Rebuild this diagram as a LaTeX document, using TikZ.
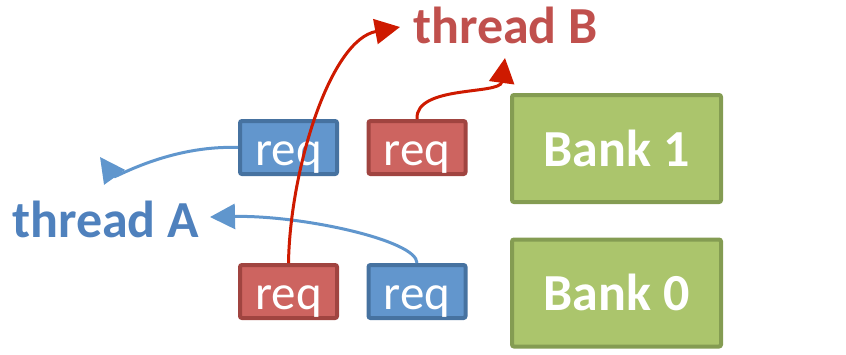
\documentclass[tikz,border=0pt]{standalone}
\usepackage{fontspec}
\setmainfont{Carlito}
\usetikzlibrary{arrows.meta}

\definecolor{reqblue}{RGB}{98,150,205}
\definecolor{reqblueedge}{RGB}{70,114,160}
\definecolor{reqred}{RGB}{205,100,96}
\definecolor{reqrededge}{RGB}{160,68,64}
\definecolor{bankfill}{RGB}{171,197,108}
\definecolor{bankedge}{RGB}{132,156,82}
\definecolor{threadAcol}{RGB}{79,129,189}
\definecolor{threadBcol}{RGB}{192,80,77}
\definecolor{arrowblue}{RGB}{96,150,205}
\definecolor{arrowred}{RGB}{206,26,0}

\begin{document}
\begin{tikzpicture}[x=1pt,y=-1pt,
  reqbox/.style={draw, line width=4pt, rounded corners=2pt, inner sep=0pt,
    minimum width=97pt, minimum height=53pt, text=white,
    font=\fontsize{49}{49}\selectfont, text height=35pt, text depth=0pt},
  reqA/.style={reqbox, fill=reqblue, draw=reqblueedge},
  reqB/.style={reqbox, fill=reqred, draw=reqrededge},
  bankbox/.style={draw=bankedge, fill=bankfill, line width=4pt, rounded corners=2pt,
    inner sep=0pt, minimum width=209pt, minimum height=107pt, text=white,
    font=\fontsize{52}{52}\selectfont\bfseries, text height=35pt, text depth=0pt},
  threadlabel/.style={anchor=base west, inner sep=0pt,
    font=\fontsize{52}{52}\selectfont\bfseries},
  tip/.style={-{Triangle[length=25pt,width=25pt]}},
  flowA/.style={tip, draw=arrowblue, line width=3pt},
  flowB/.style={tip, draw=arrowred, line width=3pt}]

\useasboundingbox (0,0) rectangle (846,354);

% request queues and banks
\node[reqA] (qA1) at (288.5,147.5) {req};
\node[reqB] (qB1) at (417,147.5) {req};
\node[bankbox] (bank1) at (616.5,148.5) {Bank 1};
\node[reqB] (qB0) at (288.5,291.5) {req};
\node[reqA] (qA0) at (417,291.5) {req};
\node[bankbox] (bank0) at (616.5,293) {Bank 0};

% thread labels
\node[threadlabel, text=threadAcol] (thA) at (12,237) {thread A};
\node[threadlabel, text=threadBcol] (thB) at (413,43) {thread B};

% arrow end points
\coordinate (endA1) at (100,157);
\coordinate (endA0) at (210,217);
\coordinate (endB0) at (400,27);
\coordinate (endB1) at (505,58);

% requests returning to their threads
\draw[flowA] (qA1.west) .. controls (170,145) and (115,178) .. (endA1);
\draw[flowA] (qA0.north) .. controls (417,240) and (300,215) .. (endA0);
\draw[flowB] (qB0.north) .. controls (290,170) and (330,40) .. (endB0);
\draw[flowB] (qB1.north) .. controls (415,85) and (500,95) .. (endB1);
\end{tikzpicture}
\end{document}
